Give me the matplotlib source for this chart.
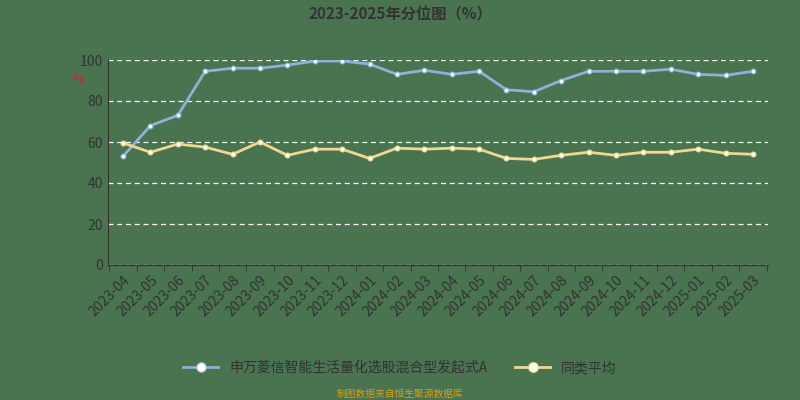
import matplotlib
matplotlib.use("Agg")
import matplotlib.pyplot as plt
import numpy as np

plt.rcParams['font.family'] = ['Noto Sans CJK SC', 'DejaVu Sans']

months = ["2023-04","2023-05","2023-06","2023-07","2023-08","2023-09","2023-10","2023-11","2023-12",
          "2024-01","2024-02","2024-03","2024-04","2024-05","2024-06","2024-07","2024-08","2024-09",
          "2024-10","2024-11","2024-12","2025-01","2025-02","2025-03"]
fund = [53,68,73,94.5,96,96,97.5,99.5,99.5,98,93,95,93,94.5,85.5,84.5,90,94.5,94.5,94.5,95.5,93,92.5,94.5]
peer = [59.5,55,59,57.5,54,60,53.5,56.5,56.5,52,57,56.5,57,56.5,52,51.5,53.5,55,53.5,55,55,56.5,54.5,54]
fund_name = "申万菱信智能生活量化选股混合型发起式A"
peer_name = "同类平均"

bg = "#4a7350"
fig = plt.figure(figsize=(8,4), dpi=100, facecolor=bg)
ax = fig.add_axes([0.135, 0.3375, 0.825, 0.5125], facecolor=bg)
x = np.arange(len(months))
ax.plot(x, fund, color="#8fb0d8", lw=2, marker='o', ms=3.5, mfc="white", mec="#8fb0d8", mew=0.8, label=fund_name)
ax.plot(x, peer, color="#f0d890", lw=2, marker='o', ms=3.5, mfc="white", mec="#f0d890", mew=0.8, label=peer_name)
ax.set_xlim(-0.55, len(months)-0.45)
ax.set_ylim(0, 100)
ax.set_yticks(range(0,101,20))
ax.yaxis.grid(True, ls=(0,(4,3)), color="white", lw=0.9)
ax.set_axisbelow(True)
ax.set_xticks(x)
ax.set_xticks(np.arange(len(months)+1)-0.5, minor=True)
ax.set_xticklabels(months, rotation=45, ha='right', rotation_mode='anchor', fontsize=10, color="#333333")
ax.tick_params(axis='y', colors="#333333", labelsize=10, length=0)
ax.tick_params(axis='x', which='major', colors="#333333", length=0, pad=6)
ax.tick_params(axis='x', which='minor', colors="#333333", length=4)
for s in ['top','right']:
    ax.spines[s].set_visible(False)
ax.spines['left'].set_color("#333333")
ax.spines['bottom'].set_color("#333333")
ax.text(-0.045, 0.89, "%", transform=ax.transAxes, color="#cc2222", fontsize=9, ha='center')
fig.text(0.5, 0.965, "2023-2025年分位图（%）", ha='center', va='center', fontsize=11, fontweight='bold', color="#333333")
fig.legend(loc='center', bbox_to_anchor=(0.5, 0.08), ncol=2, frameon=False, fontsize=10, labelcolor="#333333",
           handlelength=2.5, markerscale=2)
fig.text(0.5, 0.015, "制图数据来自恒生聚源数据库", ha='center', va='center', fontsize=7, color="#d4a017")
fig.savefig("out.png", dpi=100, facecolor=bg)
